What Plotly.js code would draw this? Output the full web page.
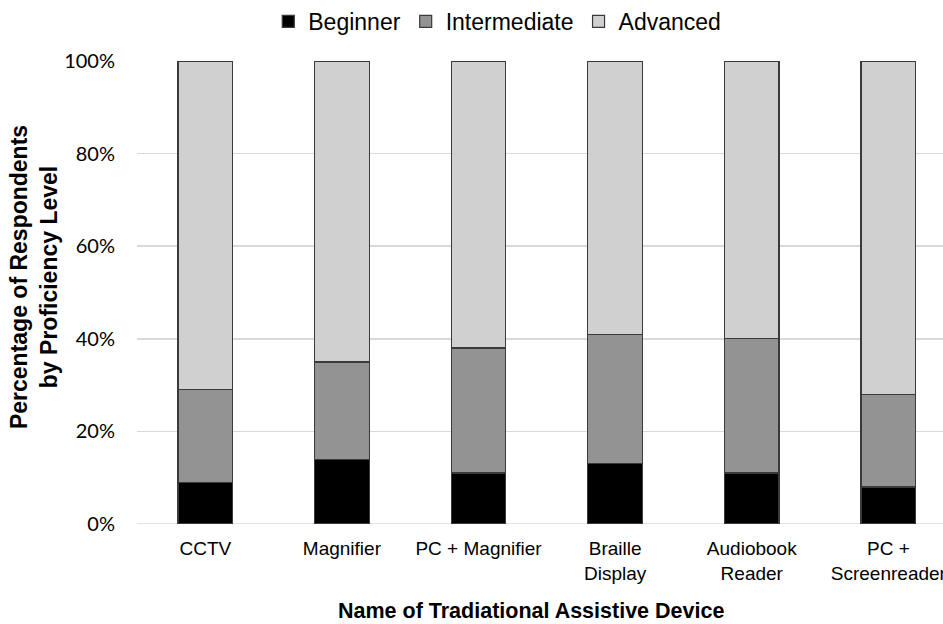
<!DOCTYPE html>
<html>
<head>
<meta charset="utf-8">
<script src="https://cdn.plot.ly/plotly-3.0.1.min.js"></script>
<style>html,body{margin:0;padding:0;background:#fff;overflow:hidden}#chart{width:943px;height:624px}</style>
</head>
<body>
<div id="chart"></div>
<script>
const categories = ["CCTV", "Magnifier", "PC + Magnifier", "Braille<br>Display", "Audiobook<br>Reader", "PC +<br>Screenreader"];
const beginner = [9, 14, 11, 13, 11, 8];
const intermediate = [20, 21, 27, 28, 29, 20];
const advanced = [71, 65, 62, 59, 60, 72];
const seriesNames = ["Beginner", "Intermediate", "Advanced"];
const colors = ["#000000", "#939393", "#d0d0d0"];
const yTicks = [0, 20, 40, 60, 80, 100];
const yTickLabels = ["0%", "20%", "40%", "60%", "80%", "100%"];

const xIdx = categories.map((_, i) => i);
const data = [beginner, intermediate, advanced].map((vals, k) => ({
  type: "bar",
  name: seriesNames[k],
  x: xIdx,
  y: vals,
  marker: {color: colors[k], line: {color: "#3a3a3a", width: 1.2}},
  width: 0.4,
  hoverinfo: "skip"
}));

const layout = {
  width: 943, height: 624,
  margin: {l: 137, r: 0, t: 61, b: 100},
  barmode: "stack",
  paper_bgcolor: "#fff", plot_bgcolor: "#fff",
  font: {family: "Liberation Sans, Arial, sans-serif", color: "#000"},
  showlegend: true,
  legend: {
    orientation: "h", x: 0.447, xanchor: "center", y: 1.0, yref: "container", yanchor: "top",
    font: {size: 23, family: "Liberation Sans, Arial, sans-serif"},
    itemwidth: 30, traceorder: "normal", tracegroupgap: 0
  },
  xaxis: {
    range: [-0.5, 5.4],
    tickmode: "array", tickvals: xIdx, ticktext: categories,
    tickfont: {size: 19, family: "Liberation Sans, Arial, sans-serif"},
    ticklabeloverflow: "allow",
    showgrid: false, zeroline: false, showline: false, ticks: "outside", ticklen: 7, tickcolor: "rgba(0,0,0,0)"
  },
  yaxis: {
    range: [0, 100],
    tickmode: "array", tickvals: yTicks, ticktext: yTickLabels,
    tickfont: {size: 20, family: "Lato, Open Sans, sans-serif"},
    showgrid: true, gridcolor: "#d9d9d9", gridwidth: 1.5,
    zeroline: false, showline: false,
    ticks: "outside", ticklen: 17, tickcolor: "rgba(0,0,0,0)"
  },
  shapes: [{type: "line", xref: "paper", yref: "y", x0: 0, x1: 1, y0: 0, y1: 0, line: {color: "#d9d9d9", width: 1.5}, layer: "below"}],
  annotations: [
    {text: "<b>Percentage of Respondents<br>by Proficiency Level</b>", xref: "paper", yref: "paper",
     x: -0.128, y: 0.533, xanchor: "center", yanchor: "middle", textangle: -90, showarrow: false,
     font: {size: 23, family: "Liberation Sans, Arial, sans-serif", color: "#000"}},
    {text: "<b>Name of Tradiational Assistive Device</b>", xref: "paper", yref: "paper",
     x: 0.489, y: -0.158, xanchor: "center", yanchor: "top", showarrow: false,
     font: {size: 21.5, family: "Liberation Sans, Arial, sans-serif", color: "#000"}}
  ]
};

Plotly.newPlot("chart", data, layout, {displayModeBar: false, staticPlot: true});
</script>
</body>
</html>
